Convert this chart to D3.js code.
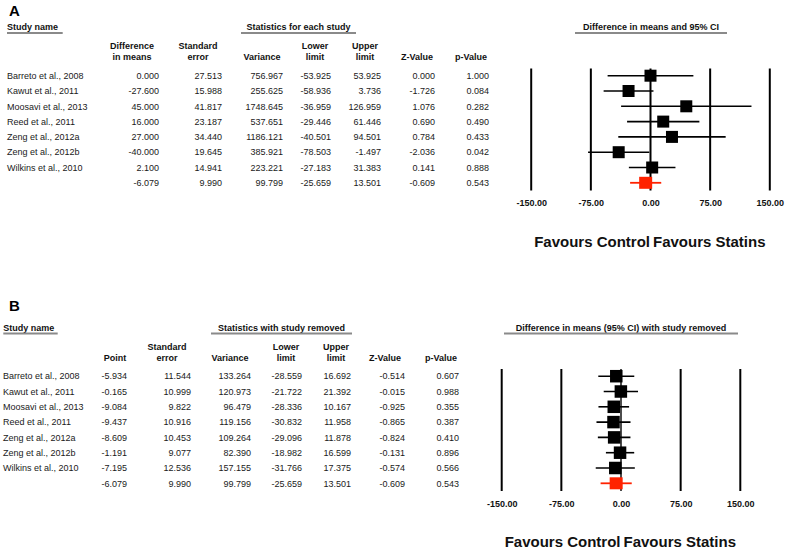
<!DOCTYPE html>
<html>
<head>
<meta charset="utf-8">
<script src="https://cdn.jsdelivr.net/npm/d3@7"></script>
<style>
  html, body { margin: 0; padding: 0; background: #fff; }
  svg { display: block; font-family: "Liberation Sans", Arial, sans-serif; }
</style>
</head>
<body>
<svg id="chart" width="787" height="551"></svg>
<script>
// ---------------- DATA ----------------
const studies = ["Barreto et al., 2008", "Kawut et al., 2011", "Moosavi et al., 2013", "Reed et al., 2011",
                 "Zeng et al., 2012a", "Zeng et al., 2012b", "Wilkins et al., 2010"];

// Panel A: statistics for each study
const diffA  = [0.000, -27.600, 45.000, 16.000, 27.000, -40.000, 2.100];
const seA    = [27.513, 15.988, 41.817, 23.187, 34.440, 19.645, 14.941];
const varA   = [756.967, 255.625, 1748.645, 537.651, 1186.121, 385.921, 223.221];
const lowerA = [-53.925, -58.936, -36.959, -29.446, -40.501, -78.503, -27.183];
const upperA = [53.925, 3.736, 126.959, 61.446, 94.501, -1.497, 31.383];
const zA     = [0.000, -1.726, 1.076, 0.690, 0.784, -2.036, 0.141];
const pA     = [1.000, 0.084, 0.282, 0.490, 0.433, 0.042, 0.888];

// Panel B: statistics with study removed
const pointB = [-5.934, -0.165, -9.084, -9.437, -8.609, -1.191, -7.195];
const seB    = [11.544, 10.999, 9.822, 10.916, 10.453, 9.077, 12.536];
const varB   = [133.264, 120.973, 96.479, 119.156, 109.264, 82.390, 157.155];
const lowerB = [-28.559, -21.722, -28.336, -30.832, -29.096, -18.982, -31.766];
const upperB = [16.692, 21.392, 10.167, 11.958, 11.878, 16.599, 17.375];
const zB     = [-0.514, -0.015, -0.925, -0.865, -0.824, -0.131, -0.574];
const pB     = [0.607, 0.988, 0.355, 0.387, 0.410, 0.896, 0.566];

// Pooled summary (same in both panels): point, se, variance, lower, upper, z, p
const summaryVals = [-6.079, 9.990, 99.799, -25.659, 13.501, -0.609, 0.543];

const tickValues = [-150, -75, 0, 75, 150];
const favourLeft = "Favours Control";
const favourRight = "Favours Statins";

// ---------------- DRAWING ----------------
const locale = d3.formatLocale({decimal: ".", thousands: ",", grouping: [3], currency: ["$", ""], minus: "-"});
const f3 = locale.format(".3f");
const f2 = locale.format(".2f");

const svg = d3.select("#chart");
const RED = "#ff2200";
const TXT = "#1a1a1a";
const GRAY = "#8a8a8a";

function drawPanel(cfg) {
  const g = svg.append("g").attr("transform", `translate(0,${cfg.dy})`);

  // panel letter
  g.append("text").attr("x", cfg.letterX).attr("y", cfg.letterY)
    .attr("font-size", 15).attr("font-weight", "bold").attr("fill", "#000").text(cfg.letter);

  // section headers with underlines
  cfg.sections.forEach(s => {
    g.append("text").attr("x", s.anchor === "start" ? s.x0 : (s.x0 + s.x1) / 2).attr("y", 30)
      .attr("text-anchor", s.anchor || "middle").attr("font-size", 9).attr("font-weight", "bold")
      .attr("fill", "#111").text(s.label);
    g.append("line").attr("x1", s.x0).attr("x2", s.x1).attr("y1", 33).attr("y2", 33)
      .attr("stroke", GRAY).attr("stroke-width", 2);
  });

  // column headers
  cfg.columns.forEach(c => {
    const lines = c.header;
    lines.forEach((t, k) => {
      const y = lines.length === 2 ? (k === 0 ? 49 : 60) : 60;
      g.append("text").attr("x", c.center).attr("y", y).attr("text-anchor", "middle")
        .attr("font-size", 9).attr("font-weight", "bold").attr("fill", "#111").text(t);
    });
  });

  const n = studies.length;
  const y = d3.scalePoint().domain(d3.range(n + 1)).range([75.7, 182.8]);

  // study names
  g.selectAll(null).data(studies).join("text")
    .attr("x", cfg.nameX).attr("y", (d, i) => y(i) + 3.2)
    .attr("font-size", 9).attr("fill", TXT).text(d => d);

  // numeric columns
  cfg.columns.forEach((c, ci) => {
    const vals = c.values.concat([summaryVals[ci]]);
    g.selectAll(null).data(vals).join("text")
      .attr("x", c.right).attr("y", (d, i) => y(i) + 3.2).attr("text-anchor", "end")
      .attr("font-size", 9).attr("fill", TXT).text(d => f3(d));
  });

  // forest plot
  const x = d3.scaleLinear().domain([-150, 150]).range(cfg.forestRange);
  const top = 68.5, bottom = 190.5;

  g.selectAll(null).data(tickValues).join("line")
    .attr("x1", d => x(d)).attr("x2", d => x(d)).attr("y1", top).attr("y2", bottom)
    .attr("stroke", "#000").attr("stroke-width", d => d === 0 ? cfg.zeroWidth : 2);

  const axis = d3.axisBottom(x).tickValues(tickValues).tickFormat(f2).tickSize(0).tickPadding(0);
  const ax = g.append("g").attr("transform", `translate(0,${200})`).call(axis);
  ax.select(".domain").remove();
  ax.selectAll("text").attr("font-size", 9).attr("font-weight", "bold").attr("fill", "#111")
    .attr("font-family", "Liberation Sans, Arial, sans-serif").attr("dy", "0.71em");

  const rows = d3.range(n).map(i => ({pt: cfg.point[i], lo: cfg.lower[i], hi: cfg.upper[i], i}));
  g.selectAll(null).data(rows).join("line")
    .attr("x1", d => x(d.lo)).attr("x2", d => x(d.hi)).attr("y1", d => y(d.i)).attr("y2", d => y(d.i))
    .attr("stroke", "#000").attr("stroke-width", 1.6);
  g.selectAll(null).data(rows).join("rect")
    .attr("x", d => x(d.pt) - cfg.sq / 2).attr("y", d => y(d.i) - cfg.sq / 2)
    .attr("width", cfg.sq).attr("height", cfg.sq).attr("fill", "#000");

  // summary
  g.append("line").attr("x1", x(summaryVals[3])).attr("x2", x(summaryVals[4]))
    .attr("y1", y(n)).attr("y2", y(n)).attr("stroke", RED).attr("stroke-width", 1.8);
  g.append("rect").attr("x", x(summaryVals[0]) - 6.5).attr("y", y(n) - 6)
    .attr("width", 13).attr("height", 12).attr("fill", RED);

  // favours labels
  g.append("text").attr("x", x(0) - 0.5).attr("y", 246.5).attr("text-anchor", "end")
    .attr("font-size", 15).attr("font-weight", "bold").attr("fill", "#111").text(favourLeft);
  g.append("text").attr("x", x(0) + 2.5).attr("y", 246.5).attr("text-anchor", "start")
    .attr("font-size", 15).attr("font-weight", "bold").attr("fill", "#111").text(favourRight);
}

drawPanel({
  dy: 0, letter: "A", letterX: 9, letterY: 15.5, nameX: 7,
  sections: [
    {label: "Study name", x0: 7, x1: 62.7, anchor: "start"},
    {label: "Statistics for each study", x0: 241, x1: 356},
    {label: "Difference in means and 95% CI", x0: 575, x1: 727}
  ],
  columns: [
    {header: ["Difference", "in means"], center: 132, right: 159, values: diffA},
    {header: ["Standard", "error"], center: 198, right: 222, values: seA},
    {header: ["Variance"], center: 262, right: 283, values: varA},
    {header: ["Lower", "limit"], center: 315, right: 331, values: lowerA},
    {header: ["Upper", "limit"], center: 365, right: 381, values: upperA},
    {header: ["Z-Value"], center: 417, right: 435, values: zA},
    {header: ["p-Value"], center: 471, right: 489, values: pA}
  ],
  forestRange: [531.2, 769.8], zeroWidth: 2,
  point: diffA, lower: lowerA, upper: upperA, sq: 12
});

drawPanel({
  dy: 300.5, letter: "B", letterX: 9, letterY: 10, nameX: 3,
  sections: [
    {label: "Study name", x0: 3.3, x1: 57.7, anchor: "start"},
    {label: "Statistics with study removed", x0: 211, x1: 352},
    {label: "Difference in means (95% CI) with study removed", x0: 504, x1: 738}
  ],
  columns: [
    {header: ["Point"], center: 115, right: 127, values: pointB},
    {header: ["Standard", "error"], center: 167, right: 191, values: seB},
    {header: ["Variance"], center: 230, right: 251, values: varB},
    {header: ["Lower", "limit"], center: 286, right: 302, values: lowerB},
    {header: ["Upper", "limit"], center: 336, right: 351, values: upperB},
    {header: ["Z-Value"], center: 385, right: 405, values: zB},
    {header: ["p-Value"], center: 441, right: 459, values: pB}
  ],
  forestRange: [501.7, 740.3], zeroWidth: 1.4,
  point: pointB, lower: lowerB, upper: upperB, sq: 12.5
});
</script>
</body>
</html>
